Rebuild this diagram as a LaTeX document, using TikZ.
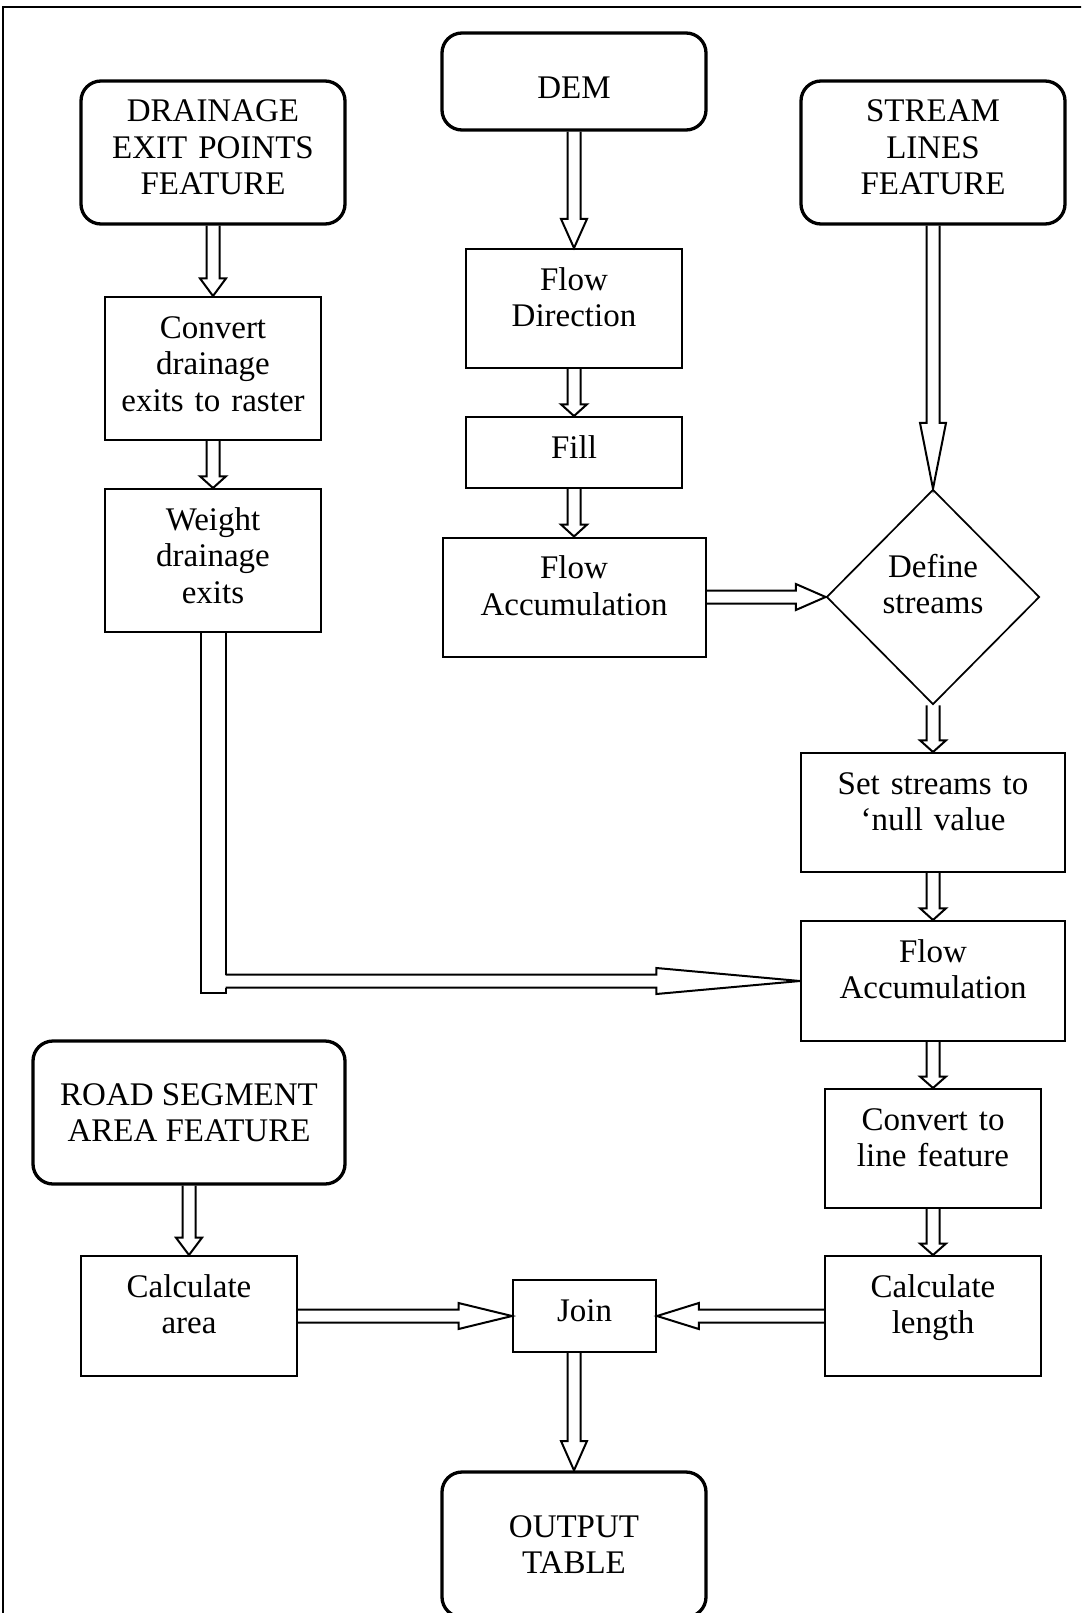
\documentclass[tikz,border=0pt]{standalone}
\usepackage{fontspec}
\setmainfont{Liberation Serif}
\usepackage{tikz}
\usetikzlibrary{shapes.geometric}
\usetikzlibrary{calc}
\tikzstyle{box}=[draw, line width=2pt, inner sep=0pt, align=center, text height=41pt]
\tikzstyle{term}=[draw, line width=3.3pt, rounded corners=20pt, inner sep=0pt, align=center, minimum width=264pt]
\tikzstyle{decision}=[draw, diamond, line width=1.7pt, inner sep=0pt, align=center, minimum width=213pt, minimum height=215pt]
\tikzstyle{hollow}=[line width=2pt]
\newcommand{\hollowarrow}[2]{
\coordinate (hb) at ($(#1)!0.75!(#2)$);
\draw[hollow] ($(#1)!6.5pt!90:(#2)$) -- ($(hb)!6.5pt!90:(#2)$) -- ($(hb)!13pt!90:(#2)$) -- (#2)
  -- ($(hb)!13pt!-90:(#2)$) -- ($(hb)!6.5pt!-90:(#2)$) -- ($(#1)!6.5pt!-90:(#2)$);
}

\begin{document}
\begin{tikzpicture}[x=1pt, y=-1pt, font=\fontsize{33}{36.5}\selectfont]
\useasboundingbox (0,0) rectangle (1081,1613);
\clip (0,0) rectangle (1081,1613);
\draw[line width=1.5pt] (3,1640) -- (3,7) -- (1100,7);
\node[term, minimum height=97pt, text width=264pt, text height=34pt, text depth=0pt] (dem) at (574,81.5) {DEM};
\node[term, minimum height=143pt, text width=264pt, text depth=83pt] (drain) at (213,152.5) {DRAINAGE\\EXIT POINTS\\FEATURE};
\node[term, minimum height=143pt, text width=264pt, text depth=83pt] (stream) at (933,152.5) {STREAM\\LINES\\FEATURE};
\node[box, text width=216pt, text depth=78pt] (flowdir) at (574,308.5) {Flow\\Direction};
\node[box, text width=216pt, text depth=30pt] (fill) at (574,452.5) {Fill};
\node[box, text width=263pt, text depth=78pt] (flowacc) at (574,597) {Flow\\Accumulation};
\node[box, text width=216pt, text depth=102pt] (convert) at (213,368.5) {Convert\\drainage\\exits to raster};
\node[box, text width=216pt, text depth=102pt] (weight) at (213,560.5) {Weight\\drainage\\exits};
\node[decision, text width=105pt, text height=22.5pt, text depth=62.5pt] (define) at (933,597) {Define\\streams};
\node[box, text width=264pt, text depth=78pt] (setnull) at (933,812.5) {Set streams to\\`null value};
\node[box, text width=264pt, text depth=79pt] (flowacc2) at (933,981) {Flow\\Accumulation};
\node[box, text width=216pt, text depth=78pt] (toline) at (933,1148.5) {Convert to\\line feature};
\node[box, text width=216pt, text depth=79pt] (length) at (933,1316) {Calculate\\length};
\node[term, minimum width=312pt, minimum height=143pt] (road) at (189,1112.5) {ROAD SEGMENT\\AREA FEATURE};
\node[box, text width=216pt, text depth=79pt] (area) at (189,1316) {Calculate\\area};
\node[box, text width=143pt, text depth=31pt] (join) at (584.5,1316) {Join};
\node[term, minimum height=145pt] (output) at (574,1544.5) {OUTPUT\\TABLE};
\hollowarrow{dem.south}{flowdir.north}
\hollowarrow{flowdir.south}{fill.north}
\hollowarrow{fill.south}{flowacc.north}
\hollowarrow{drain.south}{convert.north}
\hollowarrow{convert.south}{weight.north}
\hollowarrow{stream.south}{define.north}
\hollowarrow{flowacc.east}{define.west}
\hollowarrow{define.south}{setnull.north}
\hollowarrow{setnull.south}{flowacc2.north}
\hollowarrow{flowacc2.south}{toline.north}
\hollowarrow{toline.south}{length.north}
\hollowarrow{road.south}{area.north}
\hollowarrow{area.east}{join.west}
\hollowarrow{length.west}{join.east}
\hollowarrow{join.south -| output.north}{output.north}
\coordinate (corner) at (weight.south |- flowacc2.west);
\coordinate (shaft) at ($(corner)+(12.5,0)$);
\draw[hollow] ($(weight.south)+(-12.5,0)$) -- ($(corner)+(-12.5,12)$) -- ($(corner)+(12.5,12)$) -- ($(corner)+(12.5,6.5)$);
\draw[hollow] ($(corner)+(12.5,-6.5)$) -- ($(weight.south)+(12.5,0)$);
\hollowarrow{shaft}{flowacc2.west}
\end{tikzpicture}
\end{document}
